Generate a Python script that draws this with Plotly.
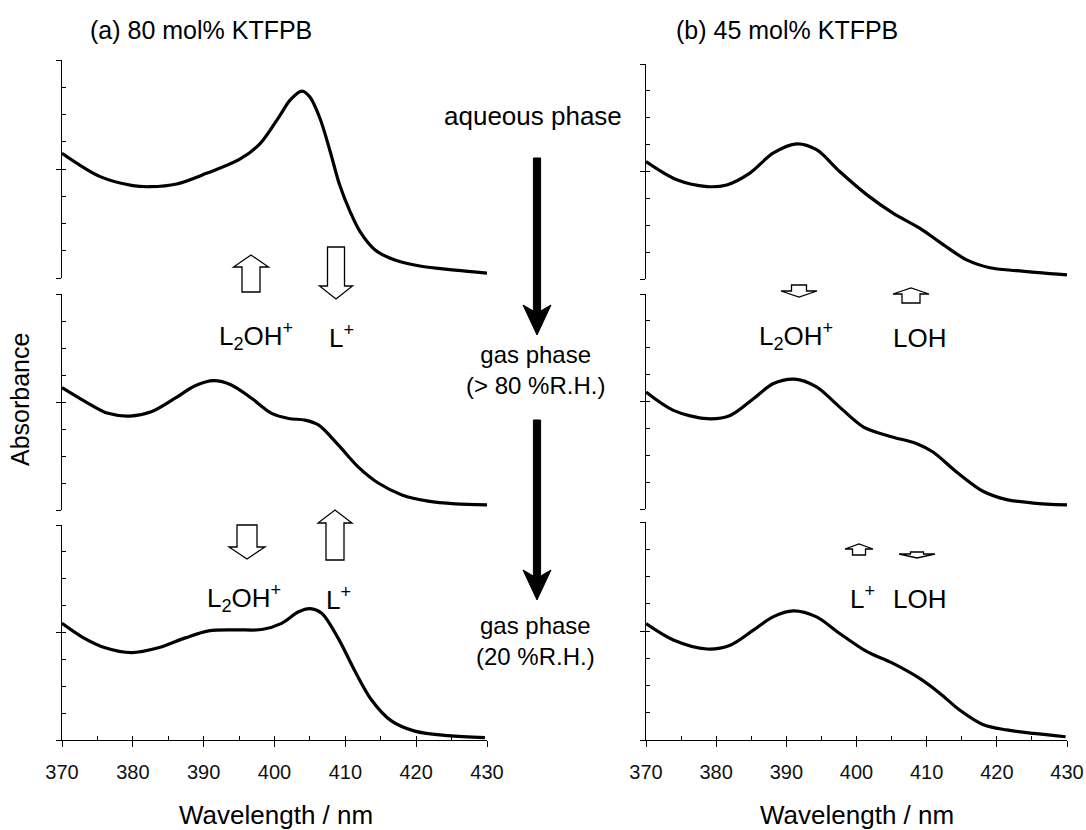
import plotly.graph_objects as go

W, H = 1086, 830

# ---------------- data (wavelength in nm, absorbance in arb. units, panel scale 0-0.8) ----------------
wl_a1 = [370, 375.4, 380, 382.4, 386.2, 390.4, 395.1, 398, 400.8, 402.2, 403.9, 405, 406.4, 407.8, 409.2,
         410.7, 412.1, 414.2, 417, 420.5, 425.5, 430]
ab_a1 = [0.458, 0.372, 0.339, 0.335, 0.345, 0.384, 0.436, 0.494, 0.598, 0.653, 0.686, 0.664, 0.587, 0.470,
         0.341, 0.242, 0.169, 0.103, 0.066, 0.044, 0.029, 0.018]

wl_a2 = [370, 373.7, 376.5, 379.6, 382.6, 385.9, 388.8, 391.4, 393.9, 396.8, 399.6, 402, 404.3, 406.2, 409,
         411.8, 414.7, 418, 421.7, 425.5, 430]
ab_a2 = [0.453, 0.395, 0.358, 0.348, 0.364, 0.413, 0.460, 0.479, 0.463, 0.413, 0.358, 0.339, 0.333, 0.315,
         0.241, 0.160, 0.099, 0.056, 0.033, 0.023, 0.019]

wl_a3 = [370, 372.8, 376.1, 379.8, 383.6, 387.4, 390.7, 394.4, 398.2, 401, 403.4, 405, 406.7, 409, 411.4,
         413.7, 416.5, 419.8, 424.5, 429.7]
ab_a3 = [0.434, 0.384, 0.343, 0.325, 0.343, 0.380, 0.406, 0.410, 0.411, 0.434, 0.477, 0.489, 0.471, 0.378,
         0.254, 0.149, 0.071, 0.033, 0.016, 0.009]

wl_b1 = [370, 374.4, 378.7, 381.5, 384.8, 388.1, 391.5, 394.3, 397.6, 401.5, 405.2, 409, 412.4, 415.7, 419,
         422.8, 430]
ab_b1 = [0.437, 0.369, 0.344, 0.350, 0.394, 0.468, 0.503, 0.481, 0.400, 0.313, 0.245, 0.189, 0.127, 0.071,
         0.042, 0.031, 0.015]

wl_b2 = [370, 373.9, 378.7, 382, 385.3, 388.1, 391.2, 394.3, 397.6, 401, 404.7, 408.6, 410.9, 414.3, 418.1,
         421.4, 425.2, 430]
ab_b2 = [0.435, 0.367, 0.336, 0.348, 0.410, 0.466, 0.483, 0.454, 0.379, 0.305, 0.271, 0.243, 0.212, 0.137,
         0.065, 0.035, 0.022, 0.015]

wl_b3 = [370, 373.9, 378.7, 382, 385.3, 388.1, 391, 394.3, 397.6, 401.5, 405.2, 409, 411.9, 414.7, 418,
         421.4, 425.2, 429.8]
ab_b3 = [0.427, 0.367, 0.334, 0.348, 0.403, 0.452, 0.474, 0.452, 0.391, 0.324, 0.281, 0.226, 0.171, 0.110,
         0.057, 0.037, 0.024, 0.012]

x_range = [370, 430]
y_range = [0, 0.8]
x_tickvals = [370, 380, 390, 400, 410, 420, 430]

titles = ["(a) 80 mol% KTFPB", "(b) 45 mol% KTFPB"]
x_title = "Wavelength / nm"
y_title = "Absorbance"
phase_texts = ["aqueous phase", "gas phase<br>(> 80 %R.H.)", "gas phase<br>(20 %R.H.)"]

# ---------------- layout helpers ----------------
FONT = "Liberation Sans, Arial, sans-serif"


def px(x):
    return x / W


def py(y):
    return 1 - y / H


xdom_px = [(62, 487), (646, 1067)]
ydom_px = [[(60, 278), (294, 510), (525, 740)],
           [(64, 279), (294, 509), (522, 740)]]

series = [(wl_a1, ab_a1), (wl_a2, ab_a2), (wl_a3, ab_a3),
          (wl_b1, ab_b1), (wl_b2, ab_b2), (wl_b3, ab_b3)]

fig = go.Figure()
layout = {}


def axname(prefix, n):
    return prefix if n == 1 else f"{prefix}{n}"


def axref(letter, n):
    return letter if n == 1 else f"{letter}{n}"


for i, (wl, ab) in enumerate(series):
    col, row = divmod(i, 3)
    n = i + 1
    m = n + 6
    bottom = row == 2
    x0, x1 = xdom_px[col]
    ytop, ybot = ydom_px[col][row]
    xd = [px(x0), px(x1)]
    yd = [py(ybot), py(ytop)]

    fig.add_trace(go.Scatter(x=wl, y=ab, mode="lines",
                             line=dict(color="black", width=3.2, shape="spline", smoothing=0.9),
                             xaxis=axref("x", n), yaxis=axref("y", n), showlegend=False,
                             hoverinfo="skip"))
    # helper trace for the overlay axes (major ticks)
    fig.add_trace(go.Scatter(x=[None], y=[None], mode="lines", showlegend=False, hoverinfo="skip",
                             xaxis=axref("x", m) if bottom else axref("x", n), yaxis=axref("y", m)))

    # main y axis: minor ticks inside
    layout[axname("yaxis", n)] = dict(domain=yd, range=y_range, anchor=axref("x", n), automargin=False,
                                      showline=True, linecolor="black", linewidth=1.2,
                                      ticks="inside", tick0=0, dtick=0.1, ticklen=4, tickwidth=1,
                                      tickcolor="black", showticklabels=False, showgrid=False,
                                      zeroline=False, fixedrange=True)
    # overlay y axis: major ticks outside
    layout[axname("yaxis", m)] = dict(overlaying=axref("y", n), range=y_range, anchor=axref("x", n),
                                      automargin=False,
                                      showline=False, ticks="outside", tick0=0, dtick=0.4, ticklen=5,
                                      tickwidth=1, tickcolor="black", showticklabels=False,
                                      showgrid=False, zeroline=False, fixedrange=True)
    if bottom:
        layout[axname("xaxis", n)] = dict(domain=xd, range=x_range, anchor=axref("y", n), automargin=False,
                                          showline=True, linecolor="black", linewidth=1.2,
                                          ticks="inside", tick0=370, dtick=5, ticklen=4, tickwidth=1,
                                          tickcolor="black", showticklabels=False, showgrid=False,
                                          zeroline=False, fixedrange=True)
        layout[axname("xaxis", m)] = dict(overlaying=axref("x", n), range=x_range, anchor=axref("y", n),
                                          automargin=False,
                                          showline=False, ticks="outside", tickmode="array",
                                          tickvals=x_tickvals, ticklen=6, tickwidth=1, tickcolor="black",
                                          showticklabels=True, ticklabelstandoff=8,
                                          tickfont=dict(size=20, color="#111", family=FONT),
                                          showgrid=False, zeroline=False, fixedrange=True)
    else:
        layout[axname("xaxis", n)] = dict(domain=xd, range=x_range, anchor=axref("y", n), automargin=False,
                                          showline=False, ticks="", showticklabels=False,
                                          showgrid=False, zeroline=False, fixedrange=True)

# ---------------- decorations ----------------
shapes = []


def block_arrow(cx, y_tail, y_tip, shaft_w, head_w, head_len, fill="white", lw=1.3):
    d = 1 if y_tip > y_tail else -1
    yb = y_tip - d * head_len
    pts = [(cx - shaft_w / 2, y_tail), (cx - shaft_w / 2, yb), (cx - head_w / 2, yb), (cx, y_tip),
           (cx + head_w / 2, yb), (cx + shaft_w / 2, yb), (cx + shaft_w / 2, y_tail)]
    path = "M " + " L ".join(f"{px(a):.5f},{py(b):.5f}" for a, b in pts) + " Z"
    shapes.append(dict(type="path", path=path, xref="paper", yref="paper",
                       fillcolor=fill, line=dict(color="black", width=lw)))


def black_arrow(cx, y_top, y_tip):
    pts = [(cx - 3.6, y_top), (cx - 3.6, y_tip - 24), (cx - 14, y_tip - 30), (cx, y_tip),
           (cx + 14, y_tip - 30), (cx + 3.6, y_tip - 24), (cx + 3.6, y_top)]
    path = "M " + " L ".join(f"{px(a):.5f},{py(b):.5f}" for a, b in pts) + " Z"
    shapes.append(dict(type="path", path=path, xref="paper", yref="paper",
                       fillcolor="black", line=dict(color="black", width=1)))


# hollow change arrows
block_arrow(251, 292, 255, 18, 35, 12)
block_arrow(336, 247, 299, 17, 33, 13)
block_arrow(247, 525, 559, 20, 36, 12)
block_arrow(335, 560, 510, 18, 34, 13)
block_arrow(799, 285, 297, 15, 36, 6)
block_arrow(911, 303, 288, 18, 36, 6)
block_arrow(859, 555, 544, 13, 28, 5)
block_arrow(917, 552, 558, 13, 36, 4)

# big black process arrows
black_arrow(537, 158, 335)
black_arrow(537, 420, 600)

annotations = []


def text(x, y, s, size, xanchor="center", angle=0):
    annotations.append(dict(x=px(x), y=py(y), xref="paper", yref="paper", text=s, showarrow=False,
                            xanchor=xanchor, yanchor="middle", textangle=angle,
                            font=dict(size=size, color="black", family=FONT)))


text(88, 30, titles[0], 25, xanchor="left")
text(674, 30, titles[1], 25, xanchor="left")
text(20, 400, y_title, 25, angle=-90)
text(276, 815, x_title, 26)
text(857, 815, x_title, 26)

text(533, 116, phase_texts[0], 26)
text(535, 370, phase_texts[1], 24)
text(535, 641, phase_texts[2], 24)

L2OH = "L<sub>2</sub>OH<sup>+</sup>"
Lp = "L<sup>+</sup>"
LOH = "LOH"
text(256, 336, L2OH, 26)
text(341, 336, Lp, 26)
text(244, 598, L2OH, 26)
text(338, 598, Lp, 26)
text(796, 336, L2OH, 26)
text(920, 338, LOH, 26)
text(862, 597, Lp, 26)
text(920, 599, LOH, 26)

fig.update_layout(width=W, height=H, margin=dict(l=0, r=0, t=0, b=0, pad=0, autoexpand=False),
                  paper_bgcolor="white", plot_bgcolor="white", showlegend=False,
                  font=dict(family=FONT, color="black"), shapes=shapes, annotations=annotations,
                  **layout)

fig.write_html("out.html")
